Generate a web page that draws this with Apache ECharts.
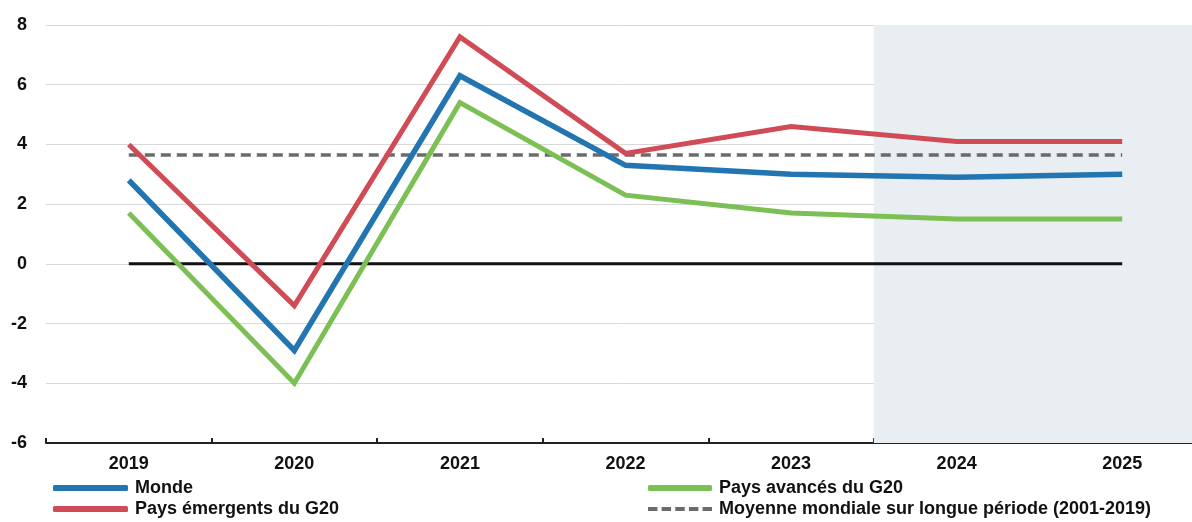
<!DOCTYPE html>
<html>
<head>
<meta charset="utf-8">
<script src="https://cdn.jsdelivr.net/npm/echarts@6/dist/echarts.min.js"></script>
<style>
html,body{margin:0;padding:0;background:#fff;}
#main{width:1192px;height:522px;}
</style>
</head>
<body>
<div id="main"></div>
<script>
const years = ['2019','2020','2021','2022','2023','2024','2025'];
const monde = [2.8, -2.9, 6.3, 3.3, 3.0, 2.9, 3.0];
const emergents = [4.0, -1.4, 7.6, 3.7, 4.6, 4.1, 4.1];
const avances = [1.7, -4.0, 5.4, 2.3, 1.7, 1.5, 1.5];
const moyenne = [3.65, 3.65, 3.65, 3.65, 3.65, 3.65, 3.65];
const zero = [0, 0, 0, 0, 0, 0, 0];
const projStart = 4.5; // boundary between 2023 and 2024 (category index)
const projEnd = 6.5;
const yTicks = { min: -6, max: 8, interval: 2 };

const names = {
  monde: 'Monde',
  emergents: 'Pays émergents du G20',
  avances: 'Pays avancés du G20',
  moyenne: 'Moyenne mondiale sur longue période (2001-2019)'
};

const FONT = "'Liberation Sans',Arial,sans-serif";
const dashIcon = 'path://M0,0h9v4h-9z M13,0h9v4h-9z M26,0h9v4h-9z M39,0h9v4h-9z M52,0h9v4h-9z';
const chart = echarts.init(document.getElementById('main'), null, { renderer: 'canvas' });

const legendText = { color: '#111', fontFamily: FONT, fontWeight: 'bold', fontSize: 18, padding: [0,0,0,2] };

chart.setOption({
  animation: false,
  backgroundColor: '#ffffff',
  grid: { left: 46, width: 1159, top: 25, bottom: 79, containLabel: false, outerBoundsMode: 'none' },
  xAxis: [{
    type: 'category',
    data: years,
    boundaryGap: true,
    axisLine: { show: true, onZero: false, lineStyle: { color: '#222', width: 2 } },
    axisTick: { show: true, inside: true, length: 5, lineStyle: { color: '#222', width: 2 } },
    axisLabel: { color: '#111', fontFamily: FONT, fontWeight: 'bold', fontSize: 18, margin: 12 },
    splitLine: { show: false }
  }, {
    type: 'value',
    min: -0.5,
    max: 6.5,
    show: false
  }],
  yAxis: {
    type: 'value',
    min: yTicks.min,
    max: yTicks.max,
    interval: yTicks.interval,
    axisLine: { show: false },
    axisTick: { show: false },
    axisLabel: { color: '#111', fontFamily: FONT, fontWeight: 'bold', fontSize: 18, margin: 19 },
    splitLine: { show: true, lineStyle: { color: '#d8d8d8', width: 1 } }
  },
  legend: [{
    left: 53, top: 479, orient: 'vertical', itemGap: 3, padding: 0,
    itemWidth: 75, itemHeight: 6,
    data: [
      { name: names.monde, icon: 'roundRect' },
      { name: names.emergents, icon: 'roundRect' }
    ],
    textStyle: legendText
  }, {
    left: 648, top: 479, orient: 'vertical', itemGap: 3, padding: 0,
    itemWidth: 64, itemHeight: 6,
    data: [
      { name: names.avances, icon: 'roundRect' },
      { name: names.moyenne, icon: dashIcon }
    ],
    textStyle: legendText
  }],
  series: [{
    name: 'projection',
    type: 'line',
    xAxisIndex: 1,
    data: [],
    silent: true,
    markArea: {
      silent: true,
      itemStyle: { color: '#e9eef2' },
      data: [[{ xAxis: projStart }, { xAxis: projEnd }]]
    }
  }, {
    name: 'zero',
    type: 'line',
    data: zero,
    symbol: 'none',
    lineStyle: { color: '#111', width: 3 },
    z: 3
  }, {
    name: names.moyenne,
    type: 'line',
    data: moyenne,
    symbol: 'none',
    color: '#6b6b6b',
    lineStyle: { color: '#6b6b6b', width: 3.5, type: [10, 6] },
    z: 4
  }, {
    name: names.avances,
    type: 'line',
    data: avances,
    symbol: 'none',
    color: '#7cbf55',
    lineStyle: { color: '#7cbf55', width: 5, join: 'miter' },
    z: 5
  }, {
    name: names.monde,
    type: 'line',
    data: monde,
    symbol: 'none',
    color: '#2275b0',
    lineStyle: { color: '#2275b0', width: 5.5, join: 'miter' },
    z: 6
  }, {
    name: names.emergents,
    type: 'line',
    data: emergents,
    symbol: 'none',
    color: '#d14b57',
    lineStyle: { color: '#d14b57', width: 5, join: 'miter' },
    z: 7
  }]
});
</script>
</body>
</html>
